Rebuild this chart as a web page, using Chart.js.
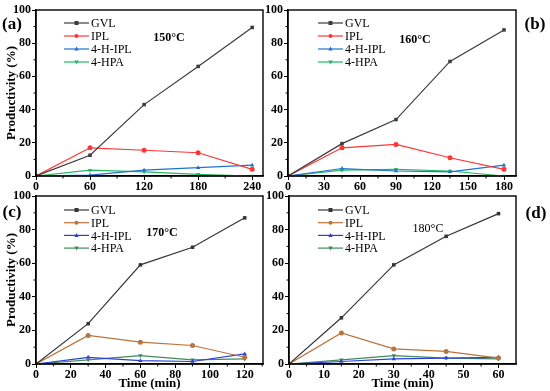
<!DOCTYPE html>
<html>
<head>
<meta charset="utf-8">
<script src="https://cdn.jsdelivr.net/npm/chart.js@4.4.1/dist/chart.umd.min.js"></script>
<style>
  body { margin: 0; background: #fff; }
  #wrap { position: relative; width: 550px; height: 391px; overflow: hidden; }
  canvas { position: absolute; }
</style>
</head>
<body>
<div id="wrap">
  <canvas id="pa" width="275" height="196" style="left:0;top:0"></canvas>
  <canvas id="pb" width="288" height="196" style="left:262px;top:0"></canvas>
  <canvas id="pc" width="275" height="205" style="left:0;top:186px"></canvas>
  <canvas id="pd" width="288" height="205" style="left:262px;top:186px"></canvas>
</div>
<script>
// series names
const seriesNames = ['GVL', 'IPL', '4-H-IPL', '4-HPA'];

// (a) 150°C
const timeA = [0, 60, 120, 180, 240];
const gvlA = [0, 12.5, 43, 66, 89.5];
const iplA = [0, 17, 15.5, 14, 4];
const hiplA = [0, 0.5, 3.5, 5, 6.5];
const hpaA = [0, 3.5, 2.5, 1, 0];

// (b) 160°C
const timeB = [0, 45, 90, 135, 180];
const gvlB = [0, 19.5, 34, 69, 88];
const iplB = [0, 17, 19, 11, 4];
const hiplB = [0, 4.5, 3, 2.5, 6.5];
const hpaB = [0, 3.5, 4, 3, 0];

// (c) 170°C
const timeC = [0, 30, 60, 90, 120];
const gvlC = [0, 24, 59, 69.5, 87];
const iplC = [0, 17, 13, 11, 4];
const hiplC = [0, 4, 2, 1.5, 6];
const hpaC = [0, 2.5, 5, 2.5, 3];

// (d) 180°C
const timeD = [0, 15, 30, 45, 60];
const gvlD = [0, 27.5, 59, 76, 89.5];
const iplD = [0, 18.5, 9, 7.5, 3.5];
const hiplD = [0, 1.5, 3, 3.5, 4];
const hpaD = [0, 2.5, 5, 3.5, 3];

const yTicks = [0, 20, 40, 60, 80, 100];

const brightColors = ['#3c3c3c', '#ff3535', '#1f72d2', '#22b862'];
const mutedColors = ['#363636', '#b8743c', '#2c40d6', '#3f8b5c'];
const markers = [
  { style: 'rect', rot: 0 },
  { style: 'circle', rot: 0 },
  { style: 'triangle', rot: 0 },
  { style: 'triangle', rot: 180 }
];

Chart.defaults.font.family = "'Liberation Serif', 'Times New Roman', serif";
Chart.defaults.color = '#000';

function drawMarker(ctx, style, rot, x, y, r, color) {
  ctx.fillStyle = color;
  ctx.beginPath();
  if (style === 'rect') {
    ctx.rect(x - r, y - r, 2 * r, 2 * r);
  } else if (style === 'circle') {
    ctx.arc(x, y, r, 0, Math.PI * 2);
  } else {
    const s = rot ? -1 : 1;
    ctx.moveTo(x, y - s * r * 1.2);
    ctx.lineTo(x + r * 1.1, y + s * r * 0.8);
    ctx.lineTo(x - r * 1.1, y + s * r * 0.8);
    ctx.closePath();
  }
  ctx.fill();
}

// frame, minor ticks, in-plot legend and labels
const decor = {
  id: 'decor',
  afterDraw(chart, args, o) {
    const ctx = chart.ctx, a = chart.chartArea;
    const xs = chart.scales.x, ys = chart.scales.y;
    ctx.save();
    ctx.strokeStyle = '#000';
    ctx.lineWidth = 1.4;
    ctx.strokeRect(a.left, a.top, a.right - a.left, a.bottom - a.top);

    // minor ticks
    ctx.lineWidth = 1;
    ctx.beginPath();
    for (let v = o.xMinor; v < xs.max; v += o.xMinor * 2) {
      const px = xs.getPixelForValue(v);
      ctx.moveTo(px, a.bottom);
      ctx.lineTo(px, a.bottom + 2.5);
    }
    for (let v = 10; v < 100; v += 20) {
      const py = ys.getPixelForValue(v);
      ctx.moveTo(a.left, py);
      ctx.lineTo(a.left - 2.5, py);
    }
    ctx.stroke();

    // legend
    ctx.font = "12px 'Liberation Serif'";
    ctx.textBaseline = 'middle';
    chart.data.datasets.forEach((ds, i) => {
      const ly = a.top + o.legTop + i * o.legGap;
      const lx = a.left + o.legLeft;
      ctx.strokeStyle = ds.borderColor;
      ctx.lineWidth = 1.2;
      ctx.beginPath();
      ctx.moveTo(lx, ly);
      ctx.lineTo(lx + 25, ly);
      ctx.stroke();
      drawMarker(ctx, markers[i].style, markers[i].rot, lx + 12.5, ly, 2, ds.borderColor);
      ctx.fillStyle = '#000';
      ctx.textAlign = 'left';
      ctx.fillText(ds.label, lx + 27, ly + 1);
    });

    // temperature
    ctx.font = (o.tempBold ? 'bold ' : '') + "12px 'Liberation Serif'";
    ctx.textAlign = 'center';
    ctx.fillText(o.temp, a.left + o.tempX, a.top + o.tempY);

    // panel letter
    ctx.font = "bold 17px 'Liberation Serif'";
    ctx.fillText(o.letter, o.letterX, o.letterY);
    ctx.restore();
  }
};

function makePanel(id, times, series, colors, cfg) {
  const datasets = series.map((vals, i) => ({
    label: seriesNames[i],
    data: times.map((t, k) => ({ x: t, y: vals[k] })),
    borderColor: colors[i],
    backgroundColor: colors[i],
    borderWidth: 1.2,
    pointStyle: markers[i].style,
    pointRotation: markers[i].rot,
    pointRadius: 2.5,
    pointBorderWidth: 0,
    tension: 0
  }));
  new Chart(document.getElementById(id), {
    type: 'line',
    data: { datasets },
    plugins: [decor],
    options: {
      responsive: false,
      animation: false,
      devicePixelRatio: 1,
      layout: { padding: { top: 10, right: cfg.padRight, left: 0, bottom: 0 } },
      plugins: {
        legend: { display: false },
        tooltip: { enabled: false },
        decor: cfg.decor
      },
      scales: {
        x: {
          type: 'linear',
          min: 0,
          max: cfg.xMax,
          afterFit: s => { s.height = cfg.xHeight; },
          ticks: {
            stepSize: cfg.xStep,
            includeBounds: false,
            font: { size: 12, weight: 'bold' },
            padding: 0,
            maxRotation: 0
          },
          grid: { drawOnChartArea: false, tickLength: 4, color: '#000', tickWidth: 1 },
          border: { color: '#000', width: 1.4 },
          title: {
            display: cfg.xTitle,
            text: 'Time (min)',
            font: { size: 13, weight: 'bold' },
            padding: { top: -4, bottom: 0 }
          }
        },
        y: {
          min: 0,
          max: 100,
          afterFit: s => { s.width = cfg.yWidth; },
          afterBuildTicks: s => { s.ticks = yTicks.map(v => ({ value: v })); },
          ticks: { font: { size: 12, weight: 'bold' }, padding: 1 },
          grid: { drawOnChartArea: false, tickLength: 4, color: '#000', tickWidth: 1 },
          border: { color: '#000', width: 1.4 },
          title: {
            display: cfg.yTitle,
            text: 'Productivity (%)',
            font: { size: 13, weight: 'bold' },
            padding: { top: 4, bottom: 0 }
          }
        }
      }
    }
  });
}

makePanel('pa', timeA, [gvlA, iplA, hiplA, hpaA], brightColors, {
  padRight: 12, xMax: 252, xStep: 60, xHeight: 20, yWidth: 36, xTitle: false, yTitle: true,
  decor: { xMinor: 30, legTop: 13, legGap: 13, legLeft: 28, temp: '150°C', tempBold: true,
           tempX: 133, tempY: 28, letter: '(a)', letterX: 12, letterY: 25 }
});
makePanel('pb', timeB, [gvlB, iplB, hiplB, hpaB], brightColors, {
  padRight: 34, xMax: 190, xStep: 30, xHeight: 20, yWidth: 26, xTitle: false, yTitle: false,
  decor: { xMinor: 15, legTop: 13, legGap: 13, legLeft: 30, temp: '160°C', tempBold: true,
           tempX: 127, tempY: 30, letter: '(b)', letterX: 273, letterY: 25 }
});
makePanel('pc', timeC, [gvlC, iplC, hiplC, hpaC], mutedColors, {
  padRight: 12, xMax: 130.5, xStep: 20, xHeight: 27, yWidth: 36, xTitle: true, yTitle: true,
  decor: { xMinor: 10, legTop: 14, legGap: 12.7, legLeft: 28, temp: '170°C', tempBold: true,
           tempX: 126, tempY: 37, letter: '(c)', letterX: 12, letterY: 27 }
});
makePanel('pd', timeD, [gvlD, iplD, hiplD, hpaD], mutedColors, {
  padRight: 34, xMax: 65, xStep: 10, xHeight: 27, yWidth: 27, xTitle: true, yTitle: false,
  decor: { xMinor: 5, legTop: 14, legGap: 12.7, legLeft: 29, temp: '180°C', tempBold: false,
           tempX: 139, tempY: 33, letter: '(d)', letterX: 274, letterY: 28 }
});
</script>
</body>
</html>
